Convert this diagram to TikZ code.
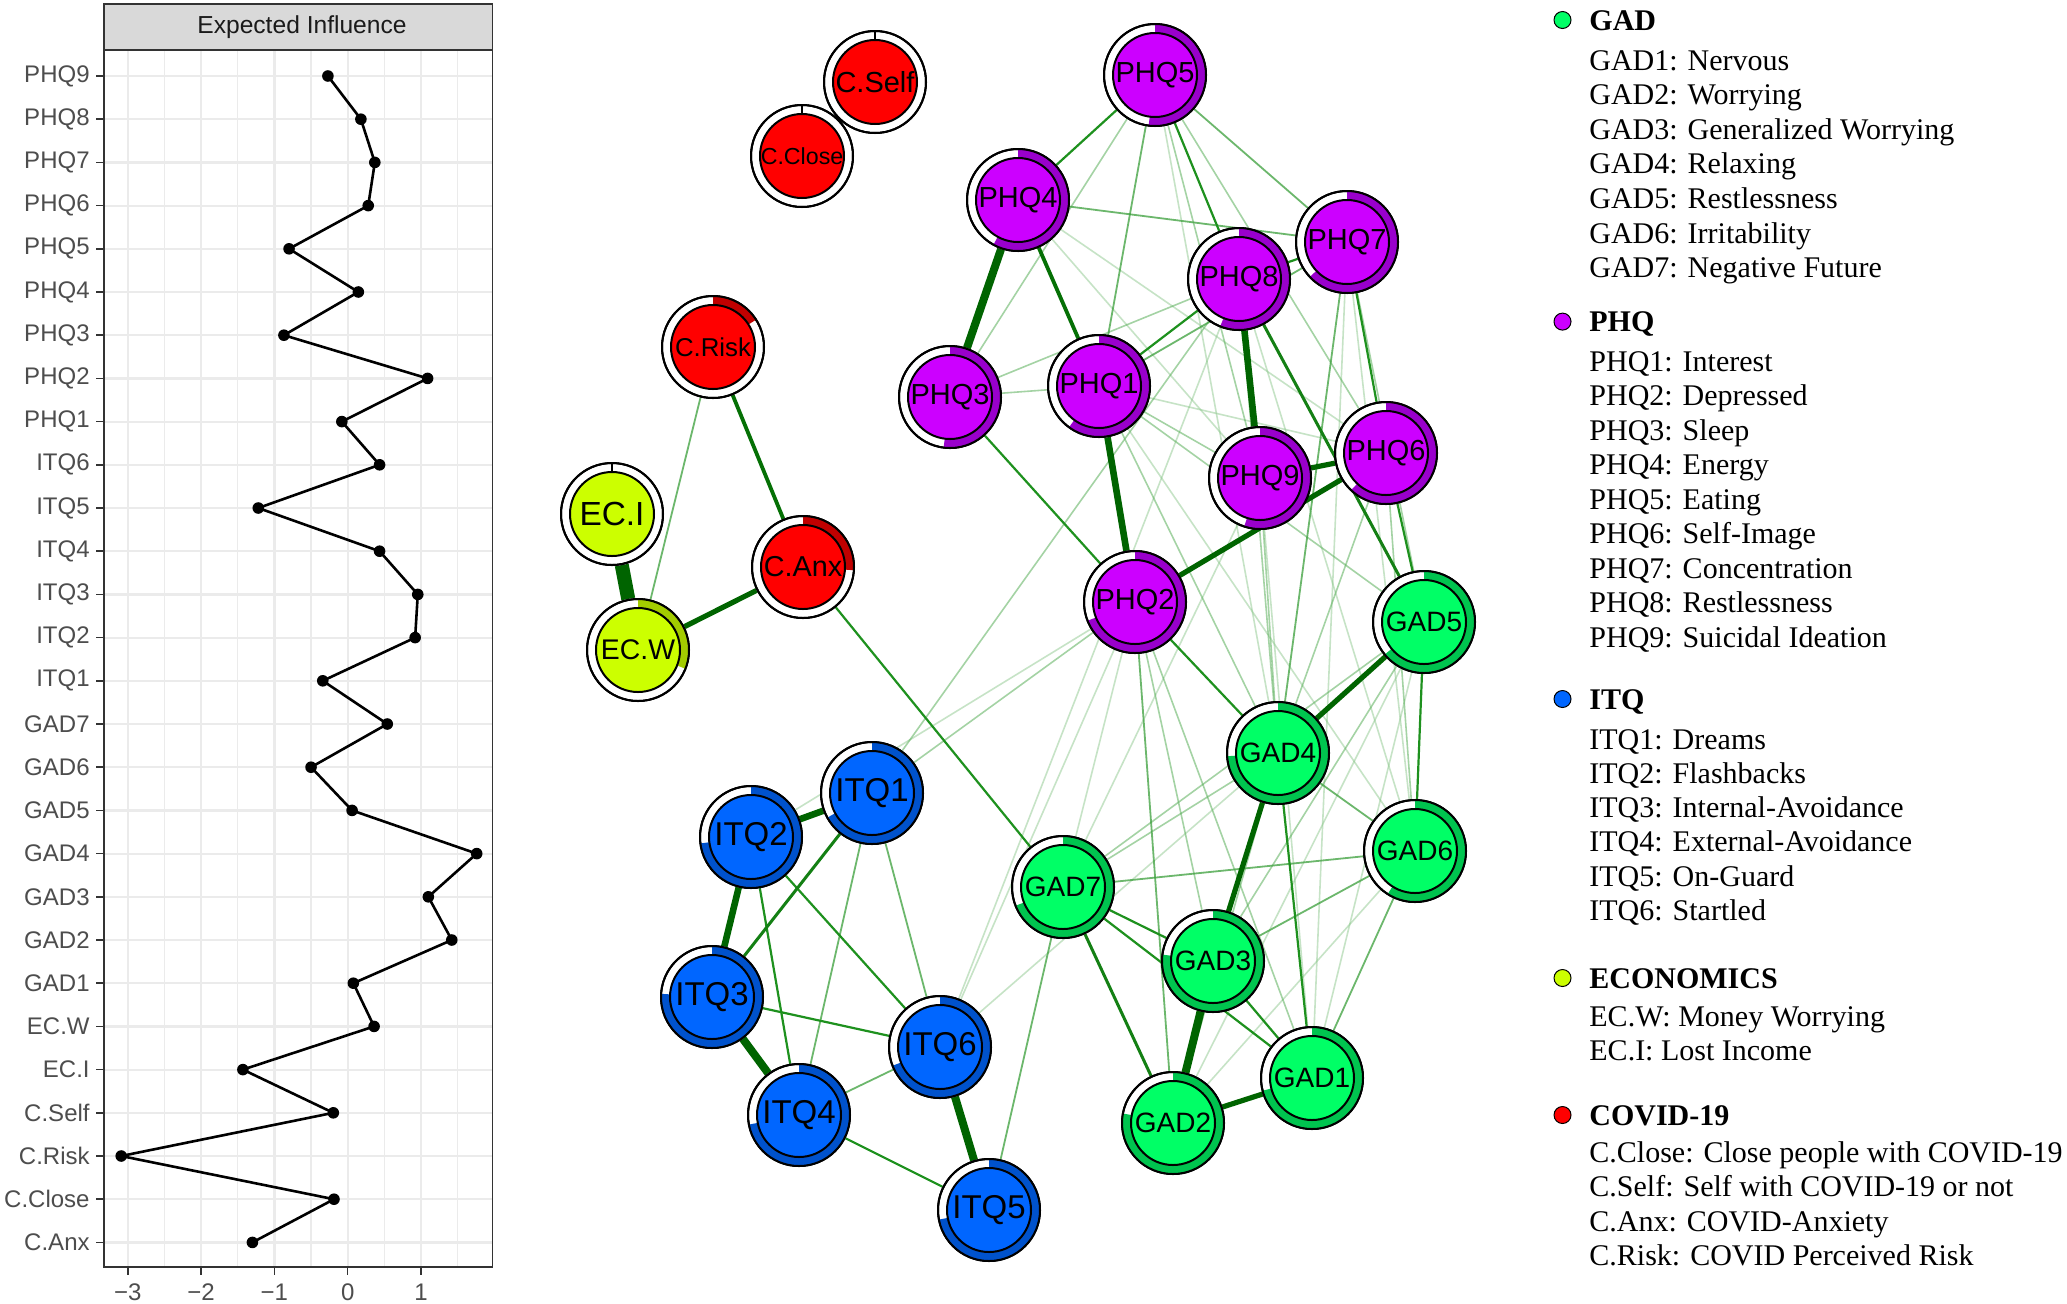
\documentclass[tikz,border=0pt]{standalone}
\usepackage{fontspec}
\newfontfamily\sansf{Liberation Sans}
\newfontfamily\seriff{Liberation Serif}
\usetikzlibrary{calc}
\pgfdeclarelayer{bg}
\pgfsetlayers{bg,main}
\definecolor{gadc}{HTML}{00FF66}\definecolor{gadd}{HTML}{00C44F}
\definecolor{phqc}{HTML}{CC00FF}\definecolor{phqd}{HTML}{9900CC}
\definecolor{itqc}{HTML}{0066FF}\definecolor{itqd}{HTML}{0052CC}
\definecolor{ecoc}{HTML}{CCFF00}\definecolor{ecod}{HTML}{A3CC00}
\definecolor{covc}{HTML}{FF0000}\definecolor{covd}{HTML}{C00000}
\definecolor{stripgrey}{HTML}{D9D9D9}
\definecolor{axgrey}{HTML}{333333}
\definecolor{labgrey}{HTML}{4D4D4D}
\definecolor{titgrey}{HTML}{1A1A1A}
\definecolor{gridgrey}{HTML}{EBEBEB}
\definecolor{gthick}{RGB}{0,100,0}
\definecolor{gdark}{RGB}{5,112,5}
\definecolor{gmid}{RGB}{20,128,20}
\definecolor{gnorm}{RGB}{30,145,30}
\definecolor{glight}{RGB}{60,160,60}
\definecolor{gpale}{RGB}{90,175,90}
\definecolor{gfaint}{RGB}{130,195,130}
\tikzset{
  outerc/.style={circle, draw=black, line width=1pt, fill=white, minimum size=51pt, inner sep=0pt},
  w9/.style={line width=7pt, draw=gthick},
  w7/.style={line width=4pt, draw=gthick},
  w6/.style={line width=3.3pt, draw=gthick},
  w5/.style={line width=2.6pt, draw=gthick},
  w4/.style={line width=1.9pt, draw=gdark},
  w3/.style={line width=1.5pt, draw=gmid},
  w2/.style={line width=1.1pt, draw=gnorm},
  w1/.style={line width=0.9pt, draw=glight, draw opacity=0.75},
  w0/.style={line width=0.8pt, draw=gpale, draw opacity=0.55},
  wz/.style={line width=0.8pt, draw=gfaint, draw opacity=0.45},
  ylab/.style={anchor=east, inner sep=0pt, text=labgrey, font=\sansf\fontsize{12}{12}\selectfont},
  xlab/.style={inner sep=0pt, text=labgrey, font=\sansf\fontsize{12}{12}\selectfont},
  leghead/.style={anchor=base west, inner sep=0pt, font=\seriff\bfseries\fontsize{15}{15}\selectfont},
  legitem/.style={anchor=base west, inner sep=0pt, font=\seriff\fontsize{15}{15}\selectfont},
  bullet/.style={circle, draw=black, line width=0.5pt, minimum size=8.5pt, inner sep=0pt},
}
\newcommand\netnode[8]{%
  \node[outerc] (#1) at (#2,-#3) {};
  \ifdim #6pt>0pt
    \fill[#5] ([shift={(90:25.5pt)}]#1.center) arc[start angle=90, delta angle={-360*#6}, radius=25.5pt]
      -- ([shift={({90-360*#6}:21pt)}]#1.center) arc[start angle={90-360*#6}, delta angle={360*#6}, radius=21pt] -- cycle;
  \else
    \draw[line width=0.6pt] ([shift={(90:21pt)}]#1.center) -- ([shift={(90:25.5pt)}]#1.center);
  \fi
  \draw[line width=1pt] (#1.center) circle[radius=25.5pt];
  \draw[line width=1pt, fill=#4] (#1.center) circle[radius=21pt];
  \node[inner sep=0pt, font=\sansf\fontsize{#8}{#8}\selectfont] (#1-l) at (#1.center) {#7};
}
\begin{document}
\begin{tikzpicture}[x=0.5pt,y=0.5pt]
\useasboundingbox (0,0) rectangle (2067,-1303);
\begin{pgfonlayer}{bg}
\fill[white] (0,0) rectangle (2067,-1303);
\end{pgfonlayer}

% ---------------- left chart ----------------
\draw[fill=stripgrey, draw=axgrey, line width=0.75pt] (104,-4) rectangle (492.7,-50);
\node[inner sep=0pt, text=titgrey, font=\sansf\fontsize{12.3}{12.3}\selectfont] (striplab) at (302,-27) {Expected Influence};
\foreach \v in {-2.5,-1.5,-0.5,0.5,1.5}
  \draw[gridgrey, line width=0.6pt] ({347.7+73.3*\v},-50) -- ({347.7+73.3*\v},-1267);
\foreach \v in {-3,-2,-1,0,1}
  \draw[gridgrey, line width=1.1pt] ({347.7+73.3*\v},-50) -- ({347.7+73.3*\v},-1267);
\foreach \i in {0,...,27}
  \draw[gridgrey, line width=1.1pt] (104,{-(76+43.2*\i)}) -- (492.7,{-(76+43.2*\i)});
\draw[draw=axgrey, line width=0.75pt] (104,-50) rectangle (492.7,-1267);
\foreach \lab/\v [count=\i from 0] in {PHQ9/-0.27,PHQ8/0.18,PHQ7/0.37,PHQ6/0.28,PHQ5/-0.80,PHQ4/0.145,PHQ3/-0.87,PHQ2/1.09,PHQ1/-0.08,ITQ6/0.435,ITQ5/-1.22,ITQ4/0.435,ITQ3/0.956,ITQ2/0.92,ITQ1/-0.34,GAD7/0.54,GAD6/-0.50,GAD5/0.06,GAD4/1.76,GAD3/1.10,GAD2/1.42,GAD1/0.077,EC.W/0.36,EC.I/-1.43,C.Self/-0.196,C.Risk/-3.09,C.Close/-0.187,C.Anx/-1.30}{
  \node[ylab] (yl\i) at (90,{-(76+43.2*\i)}) {\lab};
  \draw[axgrey, line width=0.75pt] (96,{-(76+43.2*\i)}) -- (104,{-(76+43.2*\i)});
  \coordinate (pt\i) at ({347.7+73.3*\v},{-(76+43.2*\i)});
}
\foreach \v/\t [count=\j] in {-3/−3,-2/−2,-1/−1,0/0,1/1}{
  \draw[axgrey, line width=0.75pt] ({347.7+73.3*\v},-1267) -- ({347.7+73.3*\v},-1275);
  \node[xlab] (xl\j) at ({347.7+73.3*\v},-1292) {\t};
}
\draw[black, line width=1.3pt, line join=round] (pt0) \foreach \i in {1,...,27}{ -- (pt\i)};
\foreach \i in {0,...,27} \fill[black] (pt\i) circle[radius=2.9pt];

% ---------------- network nodes ----------------
\netnode{CSelf}{875}{82}{covc}{covd}{0}{C.Self}{14.5}
\netnode{CClose}{802}{156}{covc}{covd}{0}{C.Close}{11.6}
\netnode{CRisk}{713}{347}{covc}{covd}{0.16}{C.Risk}{12.9}
\netnode{ECI}{612}{514}{ecoc}{ecod}{0}{EC.I}{16.7}
\netnode{ECW}{638}{650}{ecoc}{ecod}{0.31}{EC.W}{14.2}
\netnode{CAnx}{803}{567}{covc}{covd}{0.26}{C.Anx}{14.4}
\netnode{PHQ5}{1155}{75}{phqc}{phqd}{0.52}{PHQ5}{14.5}
\netnode{PHQ4}{1018}{200}{phqc}{phqd}{0.58}{PHQ4}{14.5}
\netnode{PHQ7}{1347}{242}{phqc}{phqd}{0.63}{PHQ7}{14.5}
\netnode{PHQ8}{1239}{279}{phqc}{phqd}{0.56}{PHQ8}{14.5}
\netnode{PHQ3}{950}{397}{phqc}{phqd}{0.52}{PHQ3}{14.5}
\netnode{PHQ1}{1099}{386}{phqc}{phqd}{0.60}{PHQ1}{14.5}
\netnode{PHQ9}{1260}{478}{phqc}{phqd}{0.55}{PHQ9}{14.5}
\netnode{PHQ6}{1386}{453}{phqc}{phqd}{0.62}{PHQ6}{14.5}
\netnode{PHQ2}{1135}{602}{phqc}{phqd}{0.69}{PHQ2}{14.5}
\netnode{GAD5}{1424}{622}{gadc}{gadd}{0.64}{GAD5}{14}
\netnode{GAD4}{1278}{753}{gadc}{gadd}{0.74}{GAD4}{14}
\netnode{GAD6}{1415}{851}{gadc}{gadd}{0.59}{GAD6}{14}
\netnode{GAD7}{1063}{887}{gadc}{gadd}{0.69}{GAD7}{14}
\netnode{GAD3}{1213}{961}{gadc}{gadd}{0.77}{GAD3}{14}
\netnode{GAD1}{1312}{1078}{gadc}{gadd}{0.71}{GAD1}{14}
\netnode{GAD2}{1173}{1123}{gadc}{gadd}{0.78}{GAD2}{14}
\netnode{ITQ1}{872}{793}{itqc}{itqd}{0.67}{ITQ1}{16.5}
\netnode{ITQ2}{751}{837}{itqc}{itqd}{0.73}{ITQ2}{16.5}
\netnode{ITQ3}{712}{997}{itqc}{itqd}{0.76}{ITQ3}{16.5}
\netnode{ITQ6}{940}{1047}{itqc}{itqd}{0.69}{ITQ6}{16.5}
\netnode{ITQ4}{799}{1115}{itqc}{itqd}{0.72}{ITQ4}{16.5}
\netnode{ITQ5}{989}{1210}{itqc}{itqd}{0.72}{ITQ5}{16.5}

% ---------------- edges ----------------
\begin{pgfonlayer}{bg}
% faint
\draw[wz] (ITQ2) -- (PHQ2);
\draw[wz] (ITQ6) -- (PHQ8);
\draw[wz] (ITQ6) -- (PHQ2);
\draw[wz] (ITQ6) -- (GAD4);
\draw[wz] (PHQ4) -- (PHQ6);
\draw[wz] (PHQ4) -- (PHQ9);
\draw[wz] (PHQ5) -- (GAD4);
\draw[wz] (PHQ2) -- (GAD7);
\draw[wz] (PHQ1) -- (GAD6);
\draw[wz] (PHQ1) -- (PHQ6);
\draw[wz] (PHQ8) -- (GAD6);
\draw[wz] (PHQ9) -- (GAD1);
\draw[wz] (PHQ9) -- (GAD7);
\draw[wz] (PHQ7) -- (GAD1);
\draw[wz] (PHQ7) -- (GAD6);
\draw[wz] (GAD5) -- (GAD2);
\draw[wz] (GAD6) -- (GAD2);
\draw[wz] (GAD5) -- (GAD1);
% pale
\draw[w0] (ITQ1) -- (PHQ2);
\draw[w0] (ITQ1) -- (PHQ8);
\draw[w0] (PHQ5) -- (PHQ3);
\draw[w0] (PHQ5) -- (PHQ9);
\draw[w0] (PHQ5) -- (PHQ6);
\draw[w0] (PHQ8) -- (PHQ3);
\draw[w0] (PHQ3) -- (PHQ1);
\draw[w0] (PHQ7) -- (GAD5);
\draw[w0] (PHQ6) -- (GAD6);
\draw[w0] (PHQ9) -- (GAD4);
\draw[w0] (PHQ2) -- (GAD3);
\draw[w0] (PHQ2) -- (GAD1);
\draw[w0] (PHQ1) -- (GAD5);
\draw[w0] (PHQ1) -- (GAD4);
\draw[w0] (PHQ1) -- (PHQ9);
\draw[w0] (PHQ8) -- (GAD4);
\draw[w0] (PHQ6) -- (GAD4);
\draw[w0] (GAD4) -- (GAD7);
\draw[w0] (GAD5) -- (GAD7);
\draw[w0] (GAD5) -- (GAD3);
\draw[w0] (GAD4) -- (GAD2);
% light
\draw[w1] (CRisk) -- (ECW);
\draw[w1] (ITQ1) -- (ITQ4);
\draw[w1] (ITQ1) -- (ITQ6);
\draw[w1] (ITQ4) -- (ITQ6);
\draw[w1] (GAD7) -- (ITQ5);
\draw[w1] (PHQ4) -- (PHQ7);
\draw[w1] (PHQ5) -- (PHQ7);
\draw[w1] (PHQ5) -- (PHQ1);
\draw[w1] (PHQ1) -- (PHQ7);
\draw[w1] (PHQ7) -- (GAD4);
\draw[w1] (PHQ2) -- (GAD2);
\draw[w1] (GAD6) -- (GAD7);
\draw[w1] (GAD6) -- (GAD3);
\draw[w1] (GAD6) -- (GAD1);
\draw[w1] (GAD4) -- (GAD6);
% normal
\draw[w2] (CAnx) -- (GAD7);
\draw[w2] (ITQ2) -- (ITQ4);
\draw[w2] (ITQ2) -- (ITQ6);
\draw[w2] (ITQ3) -- (ITQ6);
\draw[w2] (ITQ4) -- (ITQ5);
\draw[w2] (PHQ4) -- (PHQ5);
\draw[w2] (PHQ5) -- (PHQ8);
\draw[w2] (PHQ8) -- (PHQ7);
\draw[w2] (PHQ8) -- (PHQ1);
\draw[w2] (PHQ3) -- (PHQ2);
\draw[w2] (PHQ7) -- (PHQ6);
\draw[w2] (PHQ6) -- (GAD5);
\draw[w2] (PHQ2) -- (GAD4);
\draw[w2] (GAD7) -- (GAD3);
\draw[w2] (GAD7) -- (GAD1);
\draw[w2] (GAD3) -- (GAD1);
\draw[w2] (GAD4) -- (GAD1);
\draw[w2] (GAD5) -- (GAD6);
% medium / strong
\draw[w3] (ITQ1) -- (ITQ3);
\draw[w3] (PHQ8) -- (GAD5);
\draw[w3] (GAD7) -- (GAD2);
\draw[w4] (CRisk) -- (CAnx);
\draw[w4] (PHQ4) -- (PHQ1);
\draw[w5] (ECW) -- (CAnx);
\draw[w5] (PHQ2) -- (PHQ6);
\draw[w5] (PHQ9) -- (PHQ6);
\draw[w5] (GAD5) -- (GAD4);
\draw[w5] (GAD4) -- (GAD3);
\draw[w5] (GAD2) -- (GAD1);
\draw[w6] (ITQ1) -- (ITQ2);
\draw[w6] (ITQ2) -- (ITQ3);
\draw[w6] (PHQ1) -- (PHQ2);
\draw[w6] (PHQ8) -- (PHQ9);
\draw[w7] (ITQ3) -- (ITQ4);
\draw[w7] (ITQ6) -- (ITQ5);
\draw[w7] (PHQ4) -- (PHQ3);
\draw[w7] (GAD3) -- (GAD2);
\draw[w9] (ECI) -- (ECW);
\end{pgfonlayer}

% ---------------- legend ----------------
\node[bullet, fill=gadc] (bGAD) at (1562.5,-20) {};
\node[leghead] (hGAD) at (1589,-30) {GAD};
\foreach \t [count=\k from 0] in {GAD1: Nervous,GAD2: Worrying,GAD3: Generalized Worrying,GAD4: Relaxing,GAD5: Restlessness,GAD6: Irritability,GAD7: Negative Future}
  \node[legitem] (lg\k) at (1589,{-(70+34.6*\k)}) {\t};
\node[bullet, fill=phqc] (bPHQ) at (1562.5,-321.6) {};
\node[leghead] (hPHQ) at (1589,-331.6) {PHQ};
\foreach \t [count=\k from 0] in {PHQ1: Interest,PHQ2: Depressed,PHQ3: Sleep,PHQ4: Energy,PHQ5: Eating,PHQ6: Self-Image,PHQ7: Concentration,PHQ8: Restlessness,PHQ9: Suicidal Ideation}
  \node[legitem] (lp\k) at (1589,{-(371+34.5*\k)}) {\t};
\node[bullet, fill=itqc] (bITQ) at (1562.5,-699) {};
\node[leghead] (hITQ) at (1589,-709) {ITQ};
\foreach \t [count=\k from 0] in {ITQ1: Dreams,ITQ2: Flashbacks,ITQ3: Internal-Avoidance,ITQ4: External-Avoidance,ITQ5: On-Guard,ITQ6: Startled}
  \node[legitem] (li\k) at (1589,{-(749+34.3*\k)}) {\t};
\node[bullet, fill=ecoc] (bECO) at (1562.5,-978) {};
\node[leghead] (hECO) at (1589,-988) {ECONOMICS};
\node[legitem] (le0) at (1589,-1026) {EC.W: Money Worrying};
\node[legitem] (le1) at (1589,-1060) {EC.I: Lost Income};
\node[bullet, fill=covc] (bCOV) at (1562.5,-1115) {};
\node[leghead] (hCOV) at (1589,-1125) {COVID-19};
\foreach \t [count=\k from 0] in {C.Close: Close people with COVID-19,C.Self: Self with COVID-19 or not,C.Anx: COVID-Anxiety,C.Risk: COVID Perceived Risk}
  \node[legitem] (lc\k) at (1589,{-(1162+34.6*\k)}) {\t};
\end{tikzpicture}
\end{document}
